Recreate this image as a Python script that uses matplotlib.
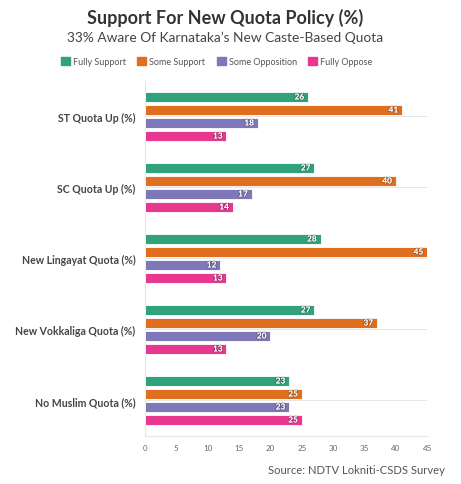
import matplotlib.pyplot as plt
import matplotlib.patheffects as pe
import numpy as np

plt.rcParams['font.family'] = ['Lato', 'DejaVu Sans']

categories = ["ST Quota Up (%)", "SC Quota Up (%)", "New Lingayat Quota (%)",
              "New Vokkaliga Quota (%)", "No Muslim Quota (%)"]
series_names = ["Fully Support", "Some Support", "Some Opposition", "Fully Oppose"]
fully_support = [26, 27, 28, 27, 23]
some_support = [41, 40, 45, 37, 25]
some_opposition = [18, 17, 12, 20, 23]
fully_oppose = [13, 14, 13, 13, 25]
colors = ["#31a37c", "#df6f1f", "#7e78b8", "#e8378f"]

series = [fully_support, some_support, some_opposition, fully_oppose]

fig = plt.figure(figsize=(4.61, 4.85), dpi=100)
ax = fig.add_axes([0.3145, 0.099, 0.612, 0.732])

y = np.arange(len(categories))
step = 0.183
h = 0.14
for i, (vals, c) in enumerate(zip(series, colors)):
    pos = y + (i - 1.5) * step
    ax.barh(pos, vals, height=h, color=c, edgecolor="white", linewidth=0.6, zorder=3)
    for p, v in zip(pos, vals):
        ax.text(v - 0.6, p, str(v), ha="right", va="center", color="white",
                fontsize=6, fontweight="bold", zorder=4,
                path_effects=[pe.withStroke(linewidth=1.2, foreground=(0, 0, 0, 0.25))])

ax.set_ylim(len(categories) - 0.5, -0.5)
ax.set_xlim(0, 45)
ax.set_xticks(range(0, 50, 5))
ax.set_yticks(y)
ax.set_yticklabels(categories, fontsize=7.6, fontweight="bold", color="#444444")
ax.tick_params(axis="y", length=0, pad=7)
ax.tick_params(axis="x", length=0, labelsize=5.8, labelcolor="#666666", pad=6)
for yy in y:
    ax.axhline(yy, color="#e6e6e6", linewidth=0.7, zorder=1)
for s in ["top", "right"]:
    ax.spines[s].set_visible(False)
ax.spines["left"].set_color("#e6e6e6")
ax.spines["bottom"].set_color("#e6e6e6")
ax.spines["left"].set_linewidth(0.8)
ax.spines["bottom"].set_linewidth(0.8)

fig.text(0.488, 0.963, "Support For New Quota Policy (%)", ha="center", va="center",
         fontsize=13, fontweight="bold", color="#333333")
fig.text(0.488, 0.922, "33% Aware Of Karnataka\u2019s New Caste-Based Quota", ha="center",
         va="center", fontsize=9.9, color="#444444")

handles = [plt.Rectangle((0, 0), 1, 1, color=c) for c in colors]
fig.legend(handles, series_names, loc="center", bbox_to_anchor=(0.47, 0.872), ncol=4,
           frameon=False, fontsize=6.5, handlelength=1.0, handleheight=1.0,
           handletextpad=0.3, columnspacing=1.3, labelcolor="#555555")

fig.text(0.965, 0.03, "Source: NDTV Lokniti-CSDS Survey", ha="right", va="center",
         fontsize=8.1, color="#555555")

fig.savefig("out.png", dpi=100)
